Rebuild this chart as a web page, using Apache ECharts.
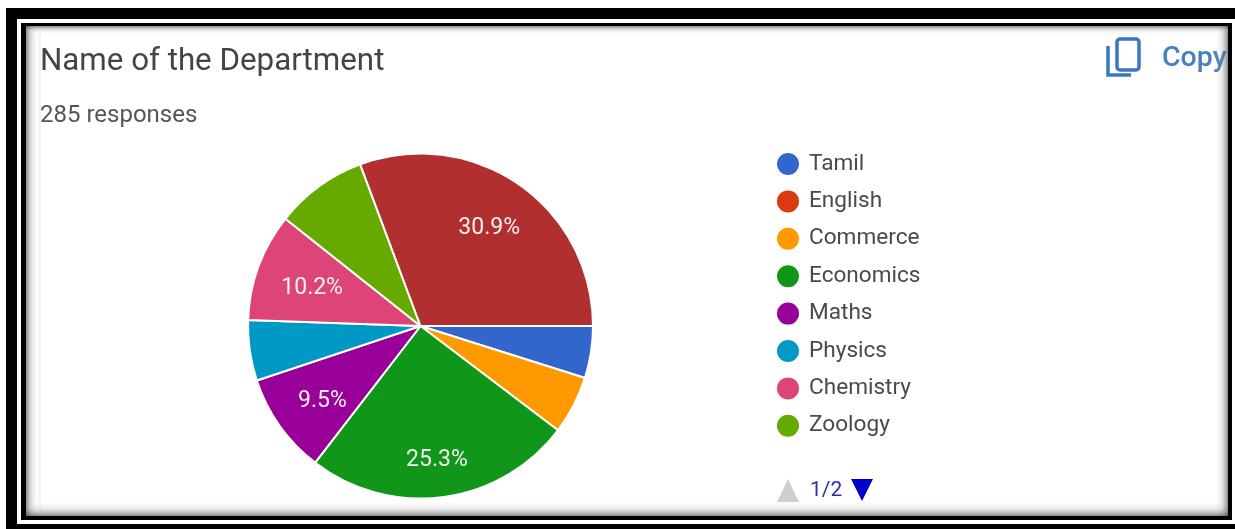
<!DOCTYPE html>
<html><head><meta charset="utf-8">
<style>html,body{margin:0;padding:0;background:#fff}#c{width:1235px;height:529px}</style>
<script src="https://cdn.jsdelivr.net/npm/echarts@6/dist/echarts.min.js"></script>
</head><body><div id="c"></div>
<script>
const legendOrder = ['Tamil','English','Commerce','Economics','Maths','Physics','Chemistry','Zoology'];
const legendColors = ['#3366cc','#dc3912','#ff9900','#109618','#990099','#0099c6','#dd4477','#66aa00'];
const sliceNames = ['Tamil','Commerce','Economics','Maths','Physics','Chemistry','Zoology','English'];
const sliceValues = [4.9,5.5,25.3,9.5,5.7,10.2,8.7,30.9];
const sliceColors = ['#3366cc','#ff9900','#109618','#990099','#0099c6','#dd4477','#66aa00','#b22f2f'];
const titleText = 'Name of the Department';
const subText = '285 responses';
const pagerText = '1/2';
const font = 'Roboto, sans-serif';
const labelNudges = {2:[0,11],3:[3,3],5:[8,5],7:[-2,4]};
const pieData = sliceNames.map((n,i)=>({name:n,value:sliceValues[i],itemStyle:{color:sliceColors[i]}}));
const chart = echarts.init(document.getElementById('c'),null,{renderer:'canvas'});
function bar(x,y,w,h,fill){return {type:'rect',silent:true,z:100,shape:{x,y,width:w,height:h},style:{fill}};}
function grad(x,y,w,h,dir){
  const c=[{offset:0,color:'rgba(60,60,60,0.6)'},{offset:0.45,color:'rgba(140,140,140,0.2)'},{offset:1,color:'rgba(255,255,255,0)'}];
  const g={h:[0,0,1,0],r:[1,0,0,0],v:[0,0,0,1],b:[0,1,0,0]}[dir];
  return {type:'rect',silent:true,z:90,shape:{x,y,width:w,height:h},
    style:{fill:new echarts.graphic.LinearGradient(g[0],g[1],g[2],g[3],c)}};
}
chart.setOption({
  animation:false,
  backgroundColor:'#fff',
  title:[
    {text:titleText,left:35,top:42,textStyle:{fontFamily:font,fontSize:31.3,fontWeight:'normal',color:'#444'}},
    {text:subText,left:35,top:99,textStyle:{fontFamily:font,fontSize:24,fontWeight:'normal',color:'#555'}}
  ],
  legend:{
    orient:'vertical',left:775,top:151,padding:0,
    itemWidth:24,itemHeight:24,itemGap:11.4,icon:'circle',
    selectedMode:false,
    textStyle:{fontFamily:font,fontSize:22.6,lineHeight:24,color:'#4a4a4a',padding:[0,0,0,4]},
    data:legendOrder.map((n,i)=>({name:n,itemStyle:{color:legendColors[i]}}))
  },
  series:[
    {type:'pie',center:[420.5,326],radius:[0,172.5],startAngle:0,clockwise:true,silent:true,
     itemStyle:{borderColor:'#fff',borderWidth:2},label:{show:false},labelLine:{show:false},data:pieData},
    {type:'pie',center:[420.5,326],radius:[70,172],startAngle:0,clockwise:true,silent:true,
     itemStyle:{color:'transparent',borderWidth:0},labelLine:{show:false},
     label:{show:true,position:'inside',fontFamily:font,fontSize:23,color:'#f0f0f0',
       formatter:p=>p.value>=9?p.value.toFixed(1)+'%':''},
     labelLayout:p=>{const d=labelNudges[p.dataIndex]||[0,0];return {dx:d[0],dy:d[1]};},
     data:sliceNames.map((n,i)=>({name:n,value:sliceValues[i],itemStyle:{color:'transparent'}}))}
  ],
  graphic:[
    {type:'text',silent:true,z:50,x:1162,y:44,style:{text:'Copy',fontFamily:font,fontSize:28.5,fontWeight:500,fill:'#4a7fbf'}},
    {type:'rect',silent:true,z:50,shape:{x:1117,y:39,width:22,height:31,r:3},style:{fill:'none',stroke:'#3b74c0',lineWidth:3.5}},
    {type:'polyline',silent:true,z:50,shape:{points:[[1108,46],[1108,75],[1131,75]]},style:{fill:'none',stroke:'#3b74c0',lineWidth:3.5}},
    {type:'polygon',silent:true,z:50,shape:{points:[[788,479],[777,502],[799,502]]},style:{fill:'#cfcfcf'}},
    {type:'text',silent:true,z:50,x:810,y:480,style:{text:pagerText,fontFamily:font,fontSize:21,fill:'#2b2fa8'}},
    {type:'polygon',silent:true,z:50,shape:{points:[[851,479],[873,479],[862,501]]},style:{fill:'#0000cc'}},
    grad(26,26,14,490,'h'),grad(1214,26,14,490,'r'),grad(26,26,1202,9,'v'),grad(26,500,1202,16,'b'),
    {type:'line',silent:true,z:89,shape:{x1:40,y1:30,x2:40,y2:510},style:{stroke:'rgba(200,200,200,0.45)',lineWidth:1}},
    bar(6,8,1229,11,'#000'),bar(6,524,1229,5,'#000'),bar(6,8,11,521,'#000'),
    bar(21,23,1211,3,'#000'),bar(21,516,1211,4,'#000'),bar(21,23,5,497,'#000'),bar(1228,23,4,497,'#000')
  ]
});
</script></body></html>
